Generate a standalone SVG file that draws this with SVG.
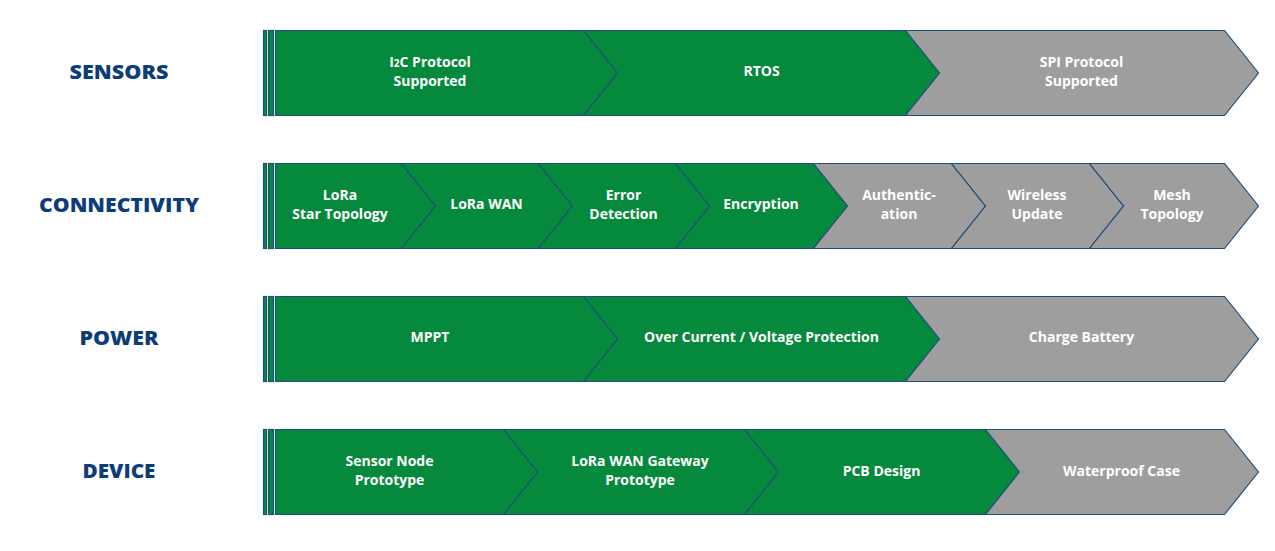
<svg xmlns="http://www.w3.org/2000/svg" width="1275" height="551" viewBox="0 0 1275 551">
<style>
.g{fill:#05893C;stroke:#1F4E79;stroke-width:1.2;stroke-linejoin:miter}
.y{fill:#9E9E9E;stroke:#1F4E79;stroke-width:1.2;stroke-linejoin:miter}
.t{font-family:"Open Sans","Liberation Sans",sans-serif;font-weight:700;font-size:14px;fill:#FFFFFF;text-anchor:middle}
.h{font-family:"Open Sans","Liberation Sans",sans-serif;font-weight:800;font-size:19px;fill:#0C3D78;text-anchor:middle}
</style>
<rect width="1275" height="551" fill="#FFFFFF"/>

<!-- Row labels -->
<g id="label-sensors"><text class="h" x="119" y="78.5" textLength="99" lengthAdjust="spacingAndGlyphs">SENSORS</text></g>
<g id="label-connectivity"><text class="h" x="119" y="211.5" textLength="160" lengthAdjust="spacingAndGlyphs">CONNECTIVITY</text></g>
<g id="label-power"><text class="h" x="119" y="344.5" textLength="79" lengthAdjust="spacingAndGlyphs">POWER</text></g>
<g id="label-device"><text class="h" x="119" y="477.5" textLength="73" lengthAdjust="spacingAndGlyphs">DEVICE</text></g>

<!-- Row 1: SENSORS -->
<g id="row-sensors">
  <rect class="g" x="263.5" y="30.5" width="3" height="85"/>
  <rect class="g" x="268.5" y="30.5" width="5" height="85"/>
  <g id="s-i2c">
    <polygon class="g" points="275.5,30.5 583.5,30.5 617.5,73 583.5,115.5 275.5,115.5"/>
    <text class="t" x="430" y="67">I<tspan font-size="10">2</tspan>C Protocol</text>
    <text class="t" x="430" y="86">Supported</text>
  </g>
  <g id="s-rtos">
    <polygon class="g" points="583.5,30.5 905.5,30.5 939.5,73 905.5,115.5 583.5,115.5 617.5,73"/>
    <text class="t" x="761.5" y="76">RTOS</text>
  </g>
  <g id="s-spi">
    <polygon class="y" points="905.5,30.5 1224.5,30.5 1258.5,73 1224.5,115.5 905.5,115.5 939.5,73"/>
    <text class="t" x="1081.5" y="67">SPI Protocol</text>
    <text class="t" x="1081.5" y="86">Supported</text>
  </g>
</g>

<!-- Row 2: CONNECTIVITY -->
<g id="row-connectivity">
  <rect class="g" x="263.5" y="163.5" width="3" height="85"/>
  <rect class="g" x="268.5" y="163.5" width="5" height="85"/>
  <g id="c-star">
    <polygon class="g" points="275.5,163.5 401.5,163.5 435.5,206 401.5,248.5 275.5,248.5"/>
    <text class="t" x="340" y="200">LoRa</text>
    <text class="t" x="340" y="219">Star Topology</text>
  </g>
  <g id="c-wan">
    <polygon class="g" points="401.5,163.5 538.5,163.5 572.5,206 538.5,248.5 401.5,248.5 435.5,206"/>
    <text class="t" x="486.5" y="209">LoRa WAN</text>
  </g>
  <g id="c-error">
    <polygon class="g" points="538.5,163.5 675.5,163.5 709.5,206 675.5,248.5 538.5,248.5 572.5,206"/>
    <text class="t" x="623.5" y="200">Error</text>
    <text class="t" x="623.5" y="219">Detection</text>
  </g>
  <g id="c-encrypt">
    <polygon class="g" points="675.5,163.5 813.5,163.5 847.5,206 813.5,248.5 675.5,248.5 709.5,206"/>
    <text class="t" x="761" y="209">Encryption</text>
  </g>
  <g id="c-auth">
    <polygon class="y" points="813.5,163.5 951.5,163.5 985.5,206 951.5,248.5 813.5,248.5 847.5,206"/>
    <text class="t" x="899" y="200">Authentic-</text>
    <text class="t" x="899" y="219">ation</text>
  </g>
  <g id="c-wireless">
    <polygon class="y" points="951.5,163.5 1089.5,163.5 1123.5,206 1089.5,248.5 951.5,248.5 985.5,206"/>
    <text class="t" x="1037" y="200">Wireless</text>
    <text class="t" x="1037" y="219">Update</text>
  </g>
  <g id="c-mesh">
    <polygon class="y" points="1089.5,163.5 1224.5,163.5 1258.5,206 1224.5,248.5 1089.5,248.5 1123.5,206"/>
    <text class="t" x="1172" y="200">Mesh</text>
    <text class="t" x="1172" y="219">Topology</text>
  </g>
</g>

<!-- Row 3: POWER -->
<g id="row-power">
  <rect class="g" x="263.5" y="296.5" width="3" height="85"/>
  <rect class="g" x="268.5" y="296.5" width="5" height="85"/>
  <g id="p-mppt">
    <polygon class="g" points="275.5,296.5 583.5,296.5 617.5,339 583.5,381.5 275.5,381.5"/>
    <text class="t" x="430" y="342">MPPT</text>
  </g>
  <g id="p-protect">
    <polygon class="g" points="583.5,296.5 905.5,296.5 939.5,339 905.5,381.5 583.5,381.5 617.5,339"/>
    <text class="t" x="761.5" y="342">Over Current / Voltage Protection</text>
  </g>
  <g id="p-charge">
    <polygon class="y" points="905.5,296.5 1224.5,296.5 1258.5,339 1224.5,381.5 905.5,381.5 939.5,339"/>
    <text class="t" x="1081.5" y="342">Charge Battery</text>
  </g>
</g>

<!-- Row 4: DEVICE -->
<g id="row-device">
  <rect class="g" x="263.5" y="429.5" width="3" height="85"/>
  <rect class="g" x="268.5" y="429.5" width="5" height="85"/>
  <g id="d-node">
    <polygon class="g" points="275.5,429.5 503.5,429.5 537.5,472 503.5,514.5 275.5,514.5"/>
    <text class="t" x="389.5" y="466">Sensor Node</text>
    <text class="t" x="389.5" y="485">Prototype</text>
  </g>
  <g id="d-gateway">
    <polygon class="g" points="503.5,429.5 744.5,429.5 778.5,472 744.5,514.5 503.5,514.5 537.5,472"/>
    <text class="t" x="640" y="466">LoRa WAN Gateway</text>
    <text class="t" x="640" y="485">Prototype</text>
  </g>
  <g id="d-pcb">
    <polygon class="g" points="744.5,429.5 985.5,429.5 1019.5,472 985.5,514.5 744.5,514.5 778.5,472"/>
    <text class="t" x="881.5" y="475.5">PCB Design</text>
  </g>
  <g id="d-case">
    <polygon class="y" points="985.5,429.5 1224.5,429.5 1258.5,472 1224.5,514.5 985.5,514.5 1019.5,472"/>
    <text class="t" x="1121.5" y="475.5">Waterproof Case</text>
  </g>
</g>
</svg>
